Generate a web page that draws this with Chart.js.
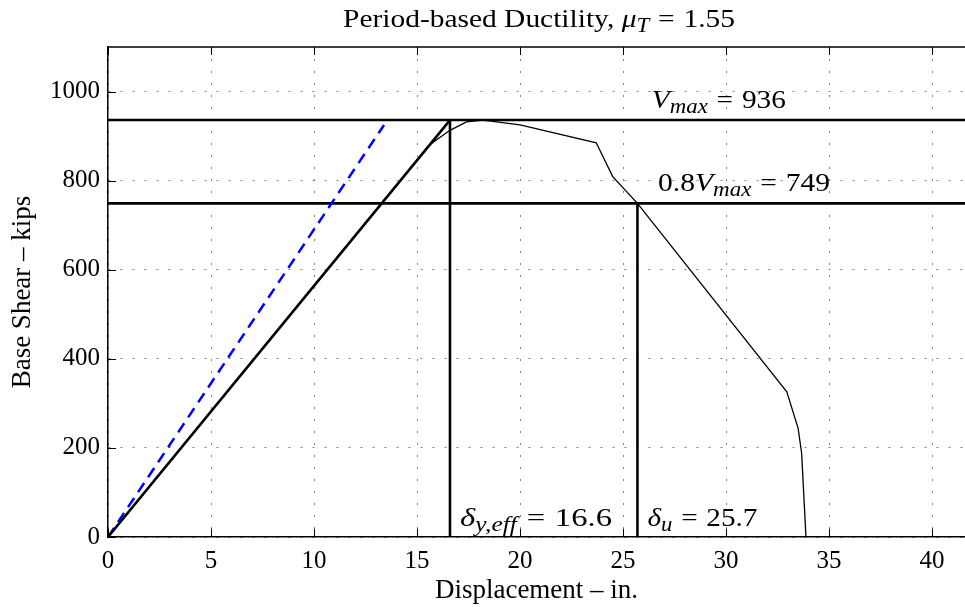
<!DOCTYPE html>
<html>
<head>
<meta charset="utf-8">
<script src="https://cdn.jsdelivr.net/npm/chart.js@4"></script>
<style>
html, body { margin: 0; padding: 0; background: #fff; overflow: hidden; }
#wrap { width: 965px; height: 607px; }
</style>
</head>
<body>
<div id="wrap"><canvas id="chart" width="965" height="607"></canvas></div>
<script>
// pushover curve
var dispX  = [0, 15.6, 16.6, 17.4, 18.2, 20.0, 23.7, 24.5, 25.7, 32.95, 33.5, 33.67, 33.88];
var shearY = [0, 880, 913, 932, 936, 925, 885, 809, 749, 326, 244, 188, 0];

// effective bilinear line and the initial period line (dashed blue)
var bilinX  = [0, 16.6];
var bilinY  = [0, 936];
var periodX = [0, 13.4];
var periodY = [0, 925];

var vMax = 936;
var vU = 749;
var dYeff = 16.6;
var dU = 25.7;
var muT = 1.55;

var xTicks = [0, 5, 10, 15, 20, 25, 30, 35, 40];
var yTicks = [0, 200, 400, 600, 800, 1000];
var xMax = 41.6;
var yMax = 1100;

var SERIF = '"Liberation Serif", "DejaVu Serif", serif';

function pts(xs, ys) {
    return xs.map(function (x, i) { return { x: x, y: ys[i] }; });
}

function line(data, color, width, dash) {
    return {
        data: data,
        showLine: true,
        borderColor: color,
        borderWidth: width,
        borderDash: dash || [],
        pointRadius: 0,
        tension: 0,
        fill: false
    };
}

// latex-ish text: italic parts, subscripts, spaced "=" ; stretched to the width seen in the figure
function drawRich(ctx, parts, x, y, size, align, target) {
    function fnt(p) {
        return (p.it ? 'italic ' : '') + (p.sub ? size * 0.78 : size) + 'px ' + SERIF;
    }
    function gap(p) { return p.t === '=' ? size * 0.3 : 0; }
    var w = 0;
    parts.forEach(function (p) {
        ctx.font = fnt(p);
        p.w = ctx.measureText(p.t).width + 2 * gap(p);
        w += p.w;
    });
    var sx = target ? target / w : 1;
    var x0 = align === 'center' ? x - w * sx / 2 : x;
    ctx.save();
    ctx.translate(x0, y);
    ctx.scale(sx, 1);
    ctx.fillStyle = '#000';
    ctx.textBaseline = 'alphabetic';
    ctx.textAlign = 'left';
    var cx = 0;
    parts.forEach(function (p) {
        ctx.font = fnt(p);
        ctx.fillText(p.t, cx + gap(p), p.sub ? size * 0.2 : 0);
        cx += p.w;
    });
    ctx.restore();
}

var extras = {
    id: 'extras',
    afterDraw: function (chart) {
        var ctx = chart.ctx;
        var a = chart.chartArea;
        var xs = chart.scales.x, ys = chart.scales.y;
        ctx.save();

        // box top and inward ticks
        ctx.strokeStyle = '#000';
        ctx.lineWidth = 1.5;
        ctx.beginPath();
        ctx.moveTo(a.left, a.top);
        ctx.lineTo(a.right, a.top);
        ctx.stroke();
        ctx.lineWidth = 1;
        ctx.beginPath();
        xTicks.forEach(function (v) {
            var px = Math.round(xs.getPixelForValue(v)) + 0.5;
            ctx.moveTo(px, a.bottom); ctx.lineTo(px, a.bottom - 8);
            ctx.moveTo(px, a.top); ctx.lineTo(px, a.top + 8);
        });
        yTicks.forEach(function (v) {
            var py = Math.round(ys.getPixelForValue(v)) + 0.5;
            ctx.moveTo(a.left, py); ctx.lineTo(a.left + 8, py);
        });
        ctx.stroke();
        ctx.restore();

        // annotations
        var fs = 26;
        drawRich(ctx, [{t: 'V', it: 1}, {t: 'max', it: 1, sub: 1}, {t: '='}, {t: String(vMax)}],
            xs.getPixelForValue(26.4), ys.getPixelForValue(vMax) - 12, fs, 'left', 134);
        drawRich(ctx, [{t: '0.8'}, {t: 'V', it: 1}, {t: 'max', it: 1, sub: 1}, {t: '='}, {t: String(vU)}],
            xs.getPixelForValue(26.7), ys.getPixelForValue(vU) - 12.5, fs, 'left', 172);
        drawRich(ctx, [{t: 'δ', it: 1}, {t: 'y,eff', it: 1, sub: 1}, {t: '='}, {t: String(dYeff)}],
            xs.getPixelForValue(dYeff) + 10, a.bottom - 11, fs, 'left', 152);
        drawRich(ctx, [{t: 'δ', it: 1}, {t: 'u', it: 1, sub: 1}, {t: '='}, {t: String(dU)}],
            xs.getPixelForValue(dU) + 10, a.bottom - 11, fs, 'left', 110);

        // title
        drawRich(ctx, [{t: 'Period-based Ductility, '}, {t: 'μ', it: 1}, {t: 'T', it: 1, sub: 1}, {t: '='}, {t: String(muT)}],
            539, 27, 26, 'center', 392);
    }
};

var ctx = document.getElementById('chart').getContext('2d');
var chart = new Chart(ctx, {
    type: 'scatter',
    data: {
        datasets: [
            line(pts(dispX, shearY), '#000', 1.3),
            line(pts(bilinX, bilinY), '#000', 2.6),
            line(pts(periodX, periodY), '#0000ff', 2.5, [11, 7]),
            line(pts([0, xMax], [vMax, vMax]), '#000', 2.6),
            line(pts([0, xMax], [vU, vU]), '#000', 2.6),
            line(pts([dYeff, dYeff], [0, vMax]), '#000', 2.6),
            line(pts([dU, dU], [0, vU]), '#000', 2.6)
        ]
    },
    options: {
        responsive: false,
        animation: false,
        devicePixelRatio: 1,
        layout: { padding: { top: 47, left: 0, right: 0, bottom: 0 } },
        plugins: { legend: { display: false }, title: { display: false }, tooltip: { enabled: false } },
        scales: {
            x: {
                type: 'linear',
                min: 0,
                max: xMax,
                afterBuildTicks: function (s) { s.ticks = xTicks.map(function (v) { return { value: v }; }); },
                afterFit: function (s) { s.height = 70; },
                ticks: { color: '#000', font: { family: SERIF, size: 25 }, padding: 9, maxRotation: 0, includeBounds: false,
                    callback: function (v) { return String(v); } },
                grid: { color: '#808080', lineWidth: 1, drawTicks: false },
                border: { color: '#000', width: 1.5, dash: [2, 10] },
                title: { display: true, text: 'Displacement – in.', color: '#000', font: { family: SERIF, size: 27 }, padding: { top: 0, bottom: 0 } }
            },
            y: {
                type: 'linear',
                min: 0,
                max: yMax,
                afterBuildTicks: function (s) { s.ticks = yTicks.map(function (v) { return { value: v }; }); },
                afterFit: function (s) { s.width = 108; },
                ticks: { color: '#000', font: { family: SERIF, size: 25 }, padding: 8, includeBounds: false,
                    callback: function (v) { return String(v); } },
                grid: { color: '#808080', lineWidth: 1, drawTicks: false },
                border: { color: '#000', width: 1.5, dash: [2, 10] },
                title: { display: true, text: 'Base Shear – kips', color: '#000', font: { family: SERIF, size: 27 }, padding: { top: 7, bottom: 0 } }
            }
        }
    },
    plugins: [extras]
});
</script>
</body>
</html>
